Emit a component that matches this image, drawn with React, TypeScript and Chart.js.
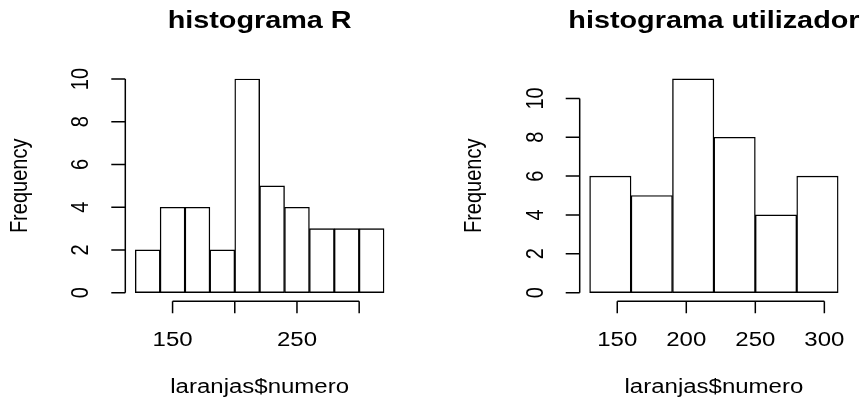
import React, { useEffect, useRef } from "react";
import { Chart, registerables } from "chart.js";

Chart.register(...registerables);

// ---- data ----
const leftBreaks = [120, 140, 160, 180, 200, 220, 240, 260, 280, 300, 320];
const leftCounts = [2, 4, 4, 2, 10, 5, 4, 3, 3, 3];
const leftXTicks = [150, 200, 250, 300];
const leftXTickLabels = ["150", "", "250", ""];
const leftYTicks = [0, 2, 4, 6, 8, 10];
const leftYTickLabels = ["0", "2", "4", "6", "8", "10"];

const rightBreaks = [130, 160, 190, 220, 250, 280, 310];
const rightCounts = [6, 5, 11, 8, 4, 6];
const rightXTicks = [150, 200, 250, 300];
const rightXTickLabels = ["150", "200", "250", "300"];
const rightYTicks = [0, 2, 4, 6, 8, 10];
const rightYTickLabels = ["0", "2", "4", "6", "8", "10"];

const leftTitle = "histograma R";
const rightTitle = "histograma utilizador";
const xAxisTitle = "laranjas$numero";
const yAxisTitle = "Frequency";

const FONT = '"Liberation Sans", Arial, Helvetica, sans-serif';
const SX = 1.2; // horizontal text stretch of the reference

type Panel = {
  breaks: number[];
  counts: number[];
  xTicks: number[];
  xTickLabels: string[];
  yTicks: number[];
  yTickLabels: string[];
  title: string;
  padding: { left: number; right: number; top: number; bottom: number };
};

const panels: Panel[] = [
  {
    breaks: leftBreaks,
    counts: leftCounts,
    xTicks: leftXTicks,
    xTickLabels: leftXTickLabels,
    yTicks: leftYTicks,
    yTickLabels: leftYTickLabels,
    title: leftTitle,
    padding: { left: 125.3, right: 37, top: 70.5, bottom: 97.8 },
  },
  {
    breaks: rightBreaks,
    counts: rightCounts,
    xTicks: rightXTicks,
    xTickLabels: rightXTickLabels,
    yTicks: rightYTicks,
    yTickLabels: rightYTickLabels,
    title: rightTitle,
    padding: { left: 148.7, right: 13.9, top: 70.4, bottom: 97.8 },
  },
];

function drawText(
  ctx: CanvasRenderingContext2D,
  s: string,
  x: number,
  y: number,
  rotate: boolean,
  font: string,
  align: CanvasTextAlign,
  baseline: CanvasTextBaseline
) {
  ctx.save();
  ctx.translate(x, y);
  ctx.scale(SX, 1);
  if (rotate) ctx.rotate(-Math.PI / 2);
  ctx.font = font;
  ctx.fillStyle = "#000";
  ctx.textAlign = align;
  ctx.textBaseline = baseline;
  ctx.fillText(s, 0, 0);
  ctx.restore();
}

function makeAxesPlugin(p: Panel) {
  return {
    id: "rAxes",
    afterDraw(chart: any) {
      const ctx: CanvasRenderingContext2D = chart.ctx;
      const xs = chart.scales.x;
      const ys = chart.scales.y;
      const area = chart.chartArea;
      const axisY = area.bottom;
      const axisX = area.left;
      ctx.save();
      ctx.strokeStyle = "#000";
      ctx.lineWidth = 1.5;
      ctx.lineCap = "butt";
      // x axis
      const x0 = xs.getPixelForValue(p.xTicks[0]);
      const x1 = xs.getPixelForValue(p.xTicks[p.xTicks.length - 1]);
      ctx.beginPath();
      ctx.moveTo(x0, axisY);
      ctx.lineTo(x1, axisY);
      p.xTicks.forEach((t) => {
        const px = xs.getPixelForValue(t);
        ctx.moveTo(px, axisY);
        ctx.lineTo(px, axisY + 12);
      });
      ctx.stroke();
      // y axis
      const y0 = ys.getPixelForValue(p.yTicks[0]);
      const y1 = ys.getPixelForValue(p.yTicks[p.yTicks.length - 1]);
      ctx.beginPath();
      ctx.moveTo(axisX, y0);
      ctx.lineTo(axisX, y1);
      p.yTicks.forEach((t) => {
        const py = ys.getPixelForValue(t);
        ctx.moveTo(axisX, py);
        ctx.lineTo(axisX - 14, py);
      });
      ctx.stroke();
      ctx.restore();

      const labelFont = `20px ${FONT}`;
      p.xTicks.forEach((t, i) => {
        const lab = p.xTickLabels[i];
        if (lab) drawText(ctx, lab, xs.getPixelForValue(t), axisY + 44.8, false, labelFont, "center", "alphabetic");
      });
      p.yTicks.forEach((t, i) => {
        const lab = p.yTickLabels[i];
        if (lab) drawText(ctx, lab, axisX - 37, ys.getPixelForValue(t), true, labelFont, "center", "alphabetic");
      });
      const cx = (area.left + area.right) / 2;
      const cy = (area.top + area.bottom) / 2;
      drawText(ctx, xAxisTitle, cx, 392.7, false, labelFont, "center", "alphabetic");
      drawText(ctx, yAxisTitle, axisX - 98.5, cy, true, labelFont, "center", "alphabetic");
      drawText(ctx, p.title, cx, 28.4, false, `bold 24px ${FONT}`, "center", "alphabetic");
    },
  };
}

function Histogram({ p }: { p: Panel }) {
  const ref = useRef<HTMLCanvasElement>(null);
  useEffect(() => {
    if (!ref.current) return;
    const b = p.breaks;
    const span = b[b.length - 1] - b[0];
    const xMin = b[0] - 0.04 * span;
    const xMax = b[b.length - 1] + 0.04 * span;
    const yTop = Math.max(...p.counts);
    const data = p.counts.map((c, i) => ({ x: (b[i] + b[i + 1]) / 2, y: c }));
    const chart = new Chart(ref.current, {
      type: "bar",
      data: {
        datasets: [
          {
            data,
            backgroundColor: "#ffffff",
            borderColor: "#000000",
            borderWidth: 1.4,
            borderSkipped: false,
            barPercentage: 1,
            categoryPercentage: 1,
          } as any,
        ],
      },
      options: {
        animation: false,
        responsive: false,
        layout: { padding: p.padding },
        plugins: { legend: { display: false }, title: { display: false }, tooltip: { enabled: false } },
        scales: {
          x: { type: "linear", min: xMin, max: xMax, offset: false, display: false },
          y: { type: "linear", min: -0.04 * yTop, max: yTop * 1.04, display: false },
        },
      },
      plugins: [makeAxesPlugin(p)],
    });
    return () => chart.destroy();
  }, [p]);
  return <canvas ref={ref} width={431} height={399} style={{ display: "block" }} />;
}

export default function App() {
  return (
    <div style={{ position: "absolute", left: 0, top: 0, width: 862, height: 399, display: "flex", background: "#fff" }}>
      <Histogram p={panels[0]} />
      <Histogram p={panels[1]} />
    </div>
  );
}
